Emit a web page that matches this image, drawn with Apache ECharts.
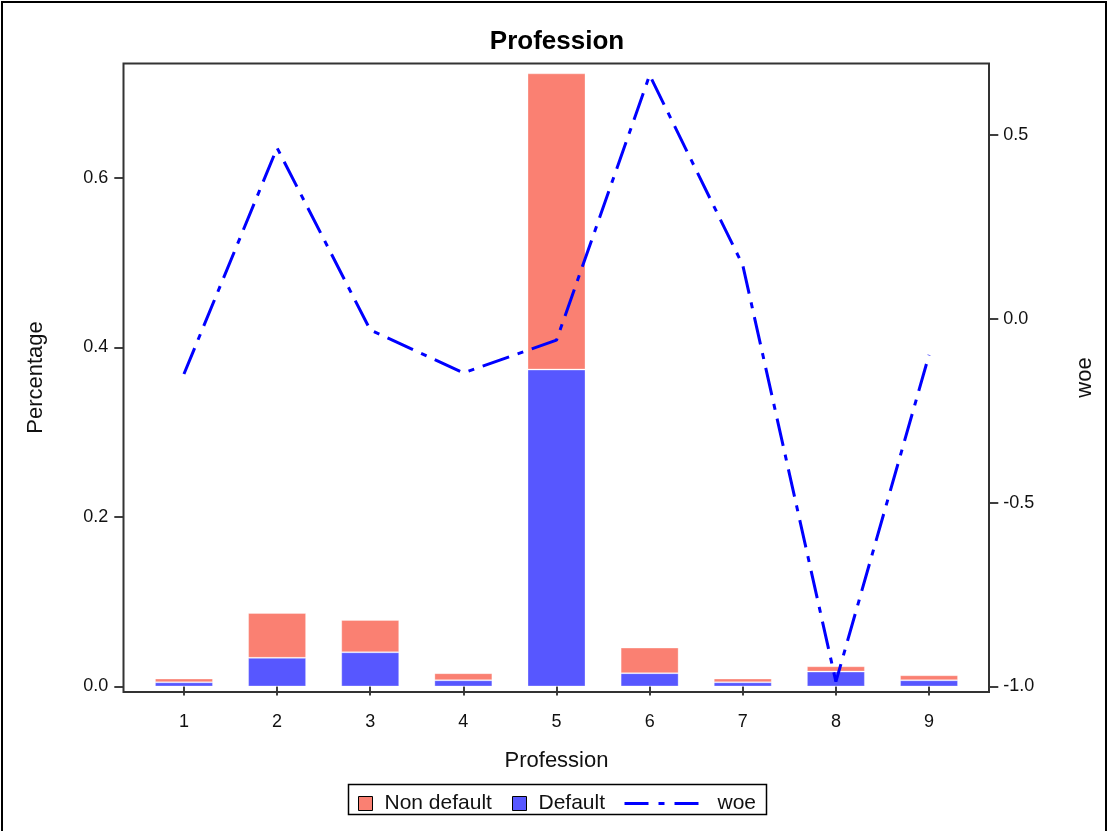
<!DOCTYPE html>
<html>
<head>
<meta charset="utf-8">
<script src="https://cdn.jsdelivr.net/npm/echarts@6/dist/echarts.min.js"></script>
<style>
html,body{margin:0;padding:0;background:#fff;}
#chart{width:1108px;height:831px;}
</style>
</head>
<body>
<div id="chart"></div>
<script>
const categories = ['1','2','3','4','5','6','7','8','9'];
const defaultPct = [0.0050, 0.0338, 0.0404, 0.0074, 0.3740, 0.0157, 0.0050, 0.0176, 0.0074];
const nonDefaultPct = [0.0044, 0.0529, 0.0381, 0.0083, 0.3495, 0.0302, 0.0044, 0.0063, 0.0059];
const woe = [-0.150, 0.465, -0.030, -0.147, -0.058, 0.663, 0.146, -0.987, -0.098];
const leftTicks = [0, 0.2, 0.4, 0.6];
const rightTicks = [-1.0, -0.5, 0.0, 0.5];

const FONT = '"Liberation Sans", Arial, sans-serif';
const chart = echarts.init(document.getElementById('chart'), null, {renderer: 'canvas'});

const option = {
  animation: false,
  backgroundColor: '#fff',
  title: {
    text: 'Profession',
    left: 552, textAlign: 'center', top: 24,
    textStyle: {fontFamily: FONT, fontWeight: 'bold', fontSize: 26, color: '#000'}
  },
  grid: {left: 137.4, right: 132.4, top: 63, bottom: 139, containLabel: false},
  legend: [
    {data: [{name: 'Non default', icon: 'rect'}], left: 358, top: 793, padding: 0, itemWidth: 14, itemHeight: 14,
     itemStyle: {borderColor: '#000', borderWidth: 1},
     textStyle: {fontFamily: FONT, fontSize: 21, color: '#111', padding: [0,0,0,7]}},
    {data: [{name: 'Default', icon: 'rect'}], left: 512, top: 793, padding: 0, itemWidth: 14, itemHeight: 14,
     itemStyle: {borderColor: '#000', borderWidth: 1},
     textStyle: {fontFamily: FONT, fontSize: 21, color: '#111', padding: [0,0,0,7]}},
    {data: [{name: 'woe'}], left: 623, top: 793, padding: 0, itemWidth: 79, itemHeight: 14,
     itemStyle: {opacity: 0},
     lineStyle: {width: 3, type: [24, 10, 6, 10]},
     textStyle: {fontFamily: FONT, fontSize: 21, color: '#111', padding: [0,0,0,9]}}
  ],
  xAxis: {
    type: 'category', data: categories,
    axisLine: {show: false},
    axisTick: {show: true, alignWithLabel: true, length: 9, lineStyle: {color: '#000', width: 1.5}},
    axisLabel: {margin: 21, fontFamily: FONT, fontSize: 18, color: '#111'},
    name: 'Profession', nameLocation: 'middle', nameGap: 58,
    nameTextStyle: {fontFamily: FONT, fontSize: 22, color: '#111'}
  },
  yAxis: [
    {
      type: 'value', position: 'left', offset: 14.1,
      min: -0.0065, max: 0.7357,
      axisLine: {show: false},
      splitLine: {show: false},
      axisTick: {show: true, length: 9, customValues: leftTicks, lineStyle: {color: '#000', width: 1.5}},
      axisLabel: {margin: 15, customValues: leftTicks, fontFamily: FONT, fontSize: 18, color: '#111',
        formatter: v => v.toFixed(1)},
      name: 'Percentage', nameLocation: 'middle', nameGap: 76, nameRotate: 90,
      nameTextStyle: {fontFamily: FONT, fontSize: 22, color: '#111'}
    },
    {
      type: 'value', position: 'right', offset: 13.7,
      min: -1.015, max: 0.696,
      axisLine: {show: false},
      splitLine: {show: false},
      axisTick: {show: true, length: 9, customValues: rightTicks, lineStyle: {color: '#000', width: 1.5}},
      axisLabel: {margin: 14, customValues: rightTicks, fontFamily: FONT, fontSize: 18, color: '#111',
        formatter: v => v.toFixed(1)},
      name: 'woe', nameLocation: 'middle', nameGap: 85, nameRotate: 90,
      nameTextStyle: {fontFamily: FONT, fontSize: 22, color: '#111'}
    }
  ],
  series: [
    {
      name: 'Default', type: 'bar', stack: 'pct', data: defaultPct, barWidth: 58,
      itemStyle: {color: '#5757ff', borderColor: 'rgba(255,255,255,0.3)', borderWidth: 1}
    },
    {
      name: 'Non default', type: 'bar', stack: 'pct', data: nonDefaultPct, barWidth: 58,
      itemStyle: {color: '#fa8072', borderColor: 'rgba(255,255,255,0.3)', borderWidth: 1}
    },
    {
      name: 'woe', type: 'line', yAxisIndex: 1, data: woe, symbol: 'none',
      itemStyle: {color: '#0000ff'},
      lineStyle: {color: '#0000ff', width: 3, type: [28, 9, 6, 9]}
    }
  ],
  graphic: [
    {type: 'rect', silent: true, z: 100,
     shape: {x: 123.5, y: 63.5, width: 865.5, height: 628.5},
     style: {fill: 'none', stroke: '#333', lineWidth: 2}},
    {type: 'rect', silent: true, z: 100,
     shape: {x: 348.5, y: 784.5, width: 418, height: 30},
     style: {fill: 'none', stroke: '#000', lineWidth: 1.5}},
    {type: 'rect', silent: true, z: 100,
     shape: {x: 2, y: 2, width: 1104, height: 860},
     style: {fill: 'none', stroke: '#000', lineWidth: 2}}
  ]
};
chart.setOption(option);
</script>
</body>
</html>
